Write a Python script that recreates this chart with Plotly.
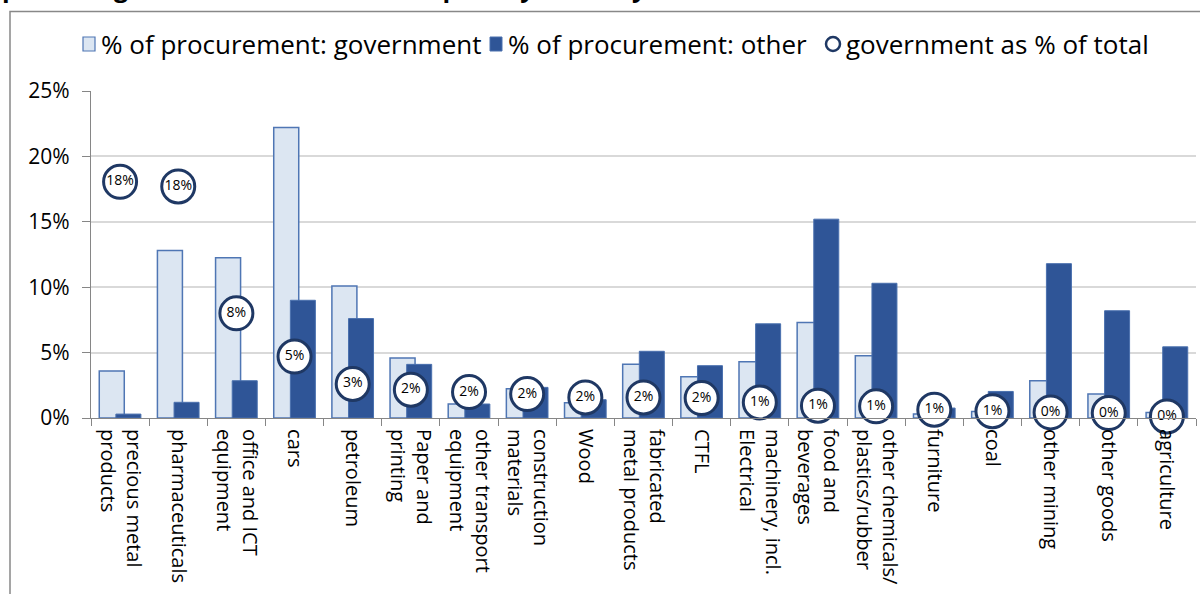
import plotly.graph_objects as go

categories = [
    "precious metal<br>products", "pharmaceuticals", "office and ICT<br>equipment", "cars",
    "petroleum", "Paper and<br>printing", "other transport<br>equipment", "construction<br>materials",
    "Wood", "fabricated<br>metal products", "CTFL", "machinery, incl.<br>Electrical",
    "food and<br>beverages", "other chemicals/<br>plastics/rubber", "furniture", "coal",
    "other mining", "other goods", "agriculture",
]
gov_share = [0.036, 0.128, 0.1226, 0.222, 0.101, 0.0458, 0.0107, 0.0224, 0.0117, 0.041,
             0.0315, 0.043, 0.073, 0.0475, 0.003, 0.005, 0.0285, 0.0183, 0.0043]
other_share = [0.003, 0.012, 0.0285, 0.090, 0.076, 0.041, 0.0107, 0.0234, 0.014, 0.051,
               0.040, 0.072, 0.152, 0.103, 0.0076, 0.0203, 0.118, 0.082, 0.0544]
gov_of_total = [0.1806, 0.177, 0.080, 0.047, 0.026, 0.0216, 0.0198, 0.0183, 0.0157, 0.0157,
                0.0152, 0.0119, 0.0094, 0.0089, 0.0063, 0.0052, 0.0043, 0.0038, 0.0012]
y_ticks = [0, 0.05, 0.10, 0.15, 0.20, 0.25]
series_names = ["% of procurement: government", "% of procurement: other", "government as % of total"]

FONT = "Open Sans"
W, H = 1200, 594
ML, MR, MT, MB = 91, 4, 91, 176
pw, ph = W - ML - MR, H - MT - MB
LIGHT, LIGHT_EDGE = "#DCE6F2", "#4F76B4"
DARK, DARK_EDGE = "#2F5597", "#4A70AE"
NAVY = "#1F3864"

def px_x(p):
    return (p - ML) / pw

def px_y(p):
    return (H - MB - p) / ph

fig = go.Figure()
fig.add_trace(go.Bar(
    x=categories, y=gov_share, name=series_names[0],
    width=0.43, offset=-0.358,
    marker=dict(color=LIGHT, line=dict(color=LIGHT_EDGE, width=1.5)),
))
fig.add_trace(go.Bar(
    x=categories, y=other_share, name=series_names[1],
    width=0.43, offset=-0.072,
    marker=dict(color=DARK, line=dict(color=DARK_EDGE, width=1)),
))
fig.add_trace(go.Scatter(
    x=categories, y=gov_of_total, name=series_names[2],
    mode="markers+text", texttemplate="%{y:.0%}", textposition="middle center",
    textfont=dict(family=FONT, size=14, color="#000000"),
    marker=dict(symbol="circle", size=33, color="#FFFFFF", line=dict(color=NAVY, width=3)),
    cliponaxis=False,
))

fig.update_layout(
    width=W, height=H,
    margin=dict(l=ML, r=MR, t=MT, b=MB, autoexpand=False),
    paper_bgcolor="#FFFFFF", plot_bgcolor="#FFFFFF",
    barmode="overlay",
    font=dict(family=FONT, color="#000000"),
    showlegend=False,
    xaxis=dict(
        automargin=False,
        showline=True, linecolor="#868686", linewidth=1.2,
        ticks="outside", tickson="boundaries", ticklen=7, tickcolor="#868686",
        ticklabelstandoff=6,
        tickangle=90, tickfont=dict(family=FONT, size=20),
        showgrid=False, range=[-0.5, len(categories) - 0.5],
    ),
    yaxis=dict(
        automargin=False,
        range=[0, 0.25], tickvals=y_ticks, tickformat=".0%",
        showline=True, linecolor="#868686", linewidth=1.2,
        ticks="outside", ticklen=8, tickcolor="#868686", ticklabelstandoff=8,
        tickfont=dict(family=FONT, size=21),
        showgrid=True, gridcolor="#D9D9D9", gridwidth=1.5, zeroline=False,
    ),
)

# outer chart frame
fig.add_shape(type="rect", xref="paper", yref="paper",
              x0=px_x(10), x1=px_x(1230), y0=px_y(640), y1=px_y(11.5),
              line=dict(color="#888888", width=1.5), fillcolor="rgba(0,0,0,0)", layer="below")

# legend (drawn manually to match the compact spacing of the original)
LEG_Y = 44
fig.add_shape(type="rect", xref="paper", yref="paper",
              x0=px_x(83), x1=px_x(95), y0=px_y(LEG_Y + 7), y1=px_y(LEG_Y - 7),
              fillcolor=LIGHT, line=dict(color=LIGHT_EDGE, width=1.2))
fig.add_shape(type="rect", xref="paper", yref="paper",
              x0=px_x(490), x1=px_x(502), y0=px_y(LEG_Y + 7), y1=px_y(LEG_Y - 7),
              fillcolor=DARK, line=dict(color=DARK_EDGE, width=1))
fig.add_shape(type="circle", xref="paper", yref="paper",
              x0=px_x(826), x1=px_x(840), y0=px_y(LEG_Y + 7), y1=px_y(LEG_Y - 7),
              fillcolor="#FFFFFF", line=dict(color=NAVY, width=2.5))
for name, xpos in zip(series_names, [99, 506, 844]):
    fig.add_annotation(text=name, xref="paper", yref="paper", x=px_x(xpos), y=px_y(LEG_Y),
                       xanchor="left", yanchor="middle", showarrow=False,
                       font=dict(family=FONT, size=26, color="#000000"))

# partially visible title
fig.add_annotation(
    text="<b>percentage of total intermediate inputs by industry</b>",
    xref="paper", yref="paper", x=px_x(0), y=px_y(6), xanchor="left", yanchor="bottom",
    showarrow=False, font=dict(family=FONT, size=25, color="#000000"),
)

fig.write_html("out.html", config={"displayModeBar": False},
               post_script="document.body.style.margin='0';")
